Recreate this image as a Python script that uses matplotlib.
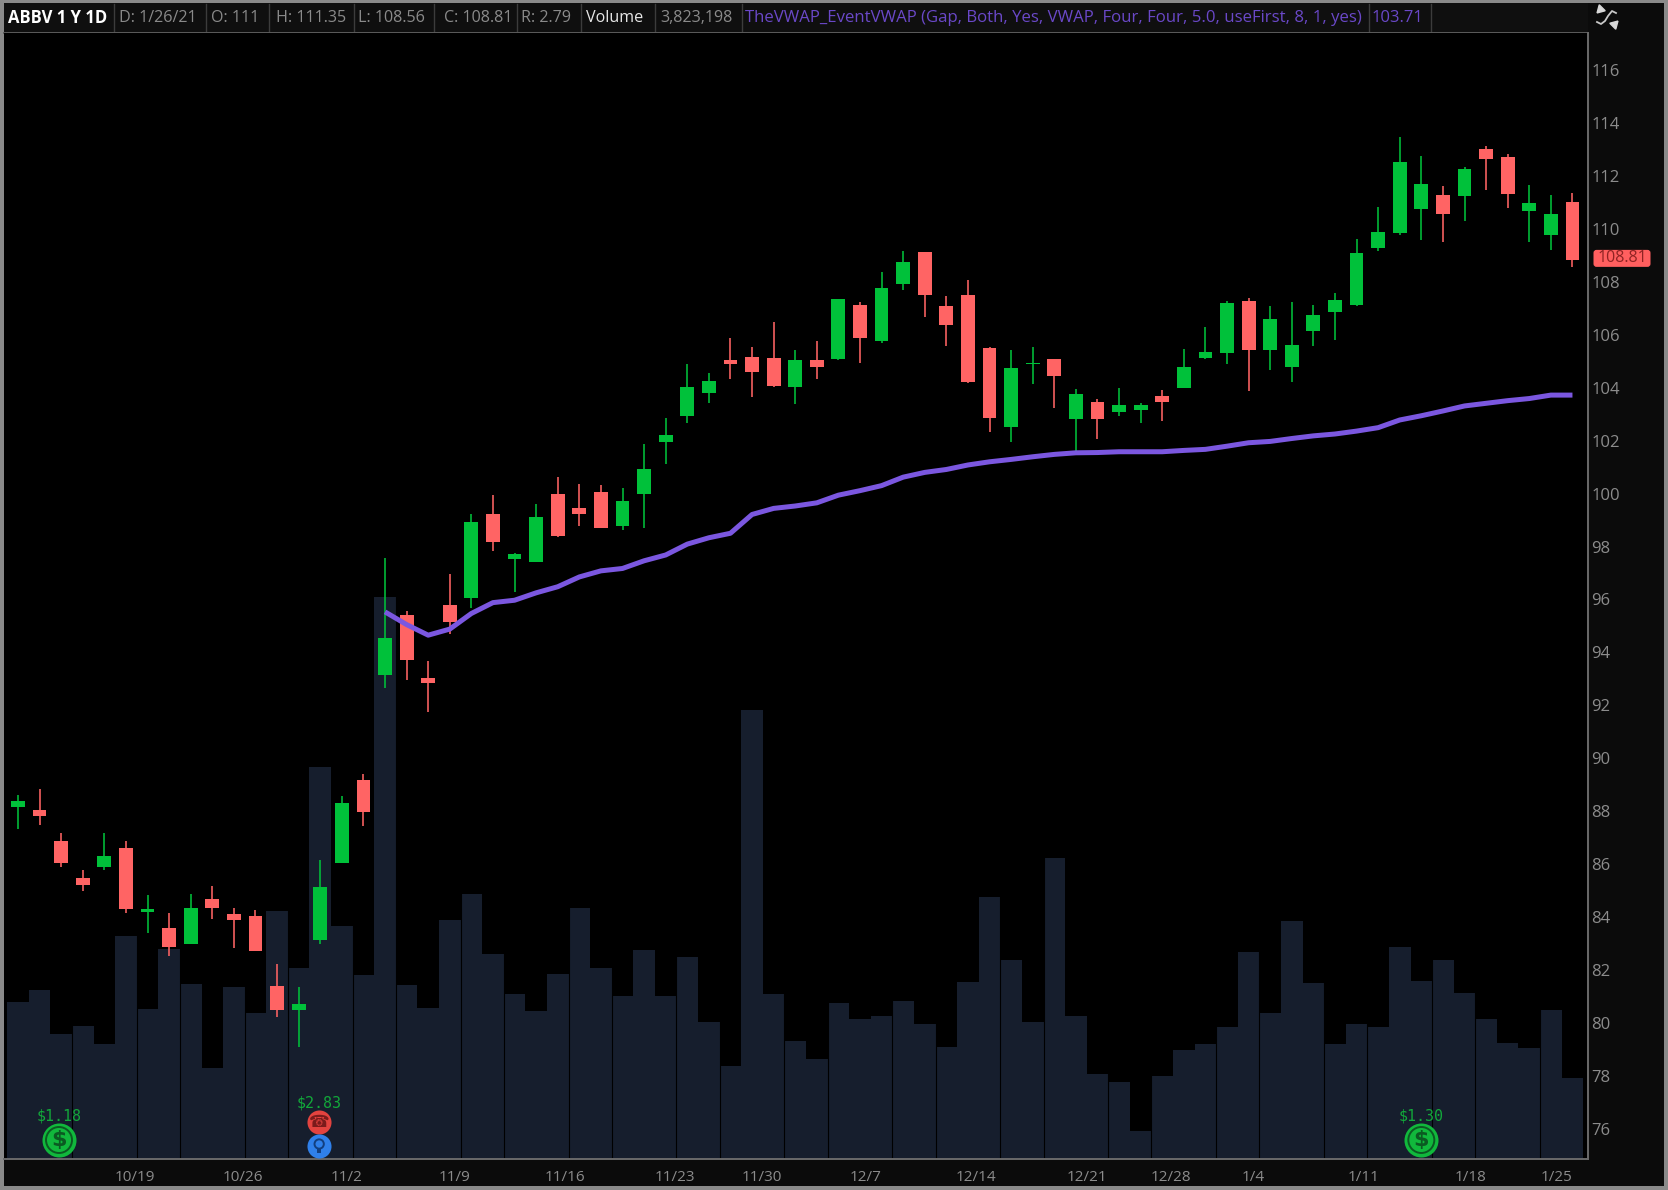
import matplotlib
matplotlib.use("Agg")
import matplotlib.pyplot as plt
from matplotlib.patches import Rectangle, FancyBboxPatch

W, H = 1668, 1190
FONT = ["Open Sans", "DejaVu Sans"]

# ------------------------------------------------------------------ data
highs = [88.62, 88.83, 87.17, 85.76, 87.17, 86.87, 84.82, 84.17, 84.89, 85.19, 84.33, 84.27, 82.24, 81.37, 86.15,
         88.57, 89.42, 97.56, 95.57, 93.69, 96.98, 99.21, 99.94, 97.76, 99.59, 100.61, 100.36, 100.32, 100.20, 101.87,
         102.84, 104.88, 104.54, 105.86, 105.52, 106.47, 105.42, 105.77, 107.34, 107.25, 108.37, 109.17, 109.14, 107.46, 108.07,
         105.52, 105.42, 105.55, 105.10, 103.94, 103.56, 103.97, 103.43, 103.91, 105.45, 106.28, 107.26, 107.40, 107.08, 107.25,
         107.12, 107.59, 109.60, 110.81, 113.48, 112.75, 111.62, 112.35, 113.13, 112.83, 111.65, 111.28, 111.35]
body_top = [88.37, 88.04, 86.89, 85.47, 86.32, 86.61, 84.29, 83.60, 84.33, 84.68, 84.11, 84.05, 81.40, 80.70, 85.13,
            88.31, 89.16, 94.55, 95.41, 93.02, 95.80, 98.94, 99.21, 97.70, 99.10, 100.00, 99.44, 100.07, 99.73, 100.91,
            102.21, 104.02, 104.26, 105.06, 105.17, 105.11, 105.06, 105.06, 107.34, 107.11, 107.76, 108.73, 109.13, 107.10, 107.49,
            105.50, 104.73, 104.95, 105.10, 103.76, 103.47, 103.36, 103.36, 103.70, 104.77, 105.33, 107.21, 107.26, 106.58, 105.61,
            106.74, 107.31, 109.07, 109.87, 112.54, 111.68, 111.29, 112.26, 113.00, 112.70, 110.96, 110.55, 111.00]
body_bot = [88.14, 87.82, 86.05, 85.20, 85.89, 84.29, 84.20, 82.87, 82.98, 84.35, 83.90, 82.71, 80.50, 80.48, 83.13,
            86.05, 87.97, 93.15, 93.72, 92.86, 95.13, 96.04, 98.16, 97.51, 97.41, 98.38, 99.21, 98.71, 98.77, 99.97,
            101.93, 102.92, 103.81, 104.89, 104.60, 104.05, 104.04, 104.77, 105.07, 105.86, 105.75, 107.92, 107.50, 106.36, 104.20,
            102.86, 102.52, 104.88, 104.44, 102.80, 102.80, 103.08, 103.14, 103.47, 104.00, 105.11, 105.30, 105.41, 105.41, 104.77,
            106.14, 106.87, 107.11, 109.26, 109.83, 110.74, 110.56, 111.24, 112.65, 111.30, 110.67, 109.77, 108.81]
lows = [87.32, 87.49, 85.89, 84.98, 85.76, 84.17, 83.39, 82.54, 82.97, 83.93, 82.83, 82.70, 80.24, 79.09, 82.99,
        86.03, 87.43, 92.66, 92.96, 91.75, 94.70, 95.69, 97.83, 96.29, 97.40, 98.37, 98.77, 98.70, 98.62, 98.69,
        101.11, 102.65, 103.43, 104.33, 103.63, 104.03, 103.38, 104.33, 105.06, 104.94, 105.67, 107.69, 106.68, 105.57, 104.16,
        102.34, 101.96, 104.14, 103.22, 101.58, 102.05, 102.94, 102.65, 102.75, 103.99, 105.09, 104.89, 103.88, 104.67, 104.20,
        105.58, 105.80, 107.10, 109.17, 109.77, 109.58, 109.49, 110.29, 111.47, 110.80, 109.50, 109.22, 108.56]
is_up = [1, 0, 0, 0, 1, 0, 1, 0, 1, 0, 0, 0, 0, 1, 1,
         1, 0, 1, 0, 0, 0, 1, 0, 1, 1, 0, 0, 0, 1, 1,
         1, 1, 1, 0, 0, 0, 1, 0, 1, 0, 1, 1, 0, 0, 0,
         0, 1, 1, 0, 1, 0, 1, 1, 0, 1, 1, 1, 0, 1, 1,
         1, 1, 1, 1, 1, 1, 0, 1, 0, 0, 1, 1, 0]
volume_m = [7.42, 7.98, 5.92, 6.28, 5.44, 10.53, 7.08, 9.93, 8.28, 4.30, 8.12, 6.87, 11.71, 9.03, 18.52,
            11.01, 8.70, 26.54, 8.20, 7.15, 11.26, 12.52, 9.68, 7.78, 6.99, 8.74, 11.83, 9.03, 7.69, 9.86,
            7.69, 9.52, 6.48, 4.40, 21.19, 7.79, 5.58, 4.72, 7.35, 6.61, 6.75, 7.47, 6.36, 5.27, 8.37,
            12.35, 9.38, 6.48, 14.19, 6.75, 4.01, 3.63, 1.32, 3.93, 5.14, 5.41, 6.22, 9.76, 6.91, 11.23,
            8.29, 5.41, 6.39, 6.22, 10.01, 8.39, 9.38, 7.85, 6.61, 5.49, 5.23, 7.03, 3.82]
vwap_start = 17
vwap = [95.53, 95.05, 94.65, 94.88, 95.47, 95.88, 95.97, 96.25, 96.48, 96.85, 97.08, 97.17, 97.46, 97.68, 98.09,
        98.33, 98.50, 99.21, 99.44, 99.53, 99.65, 99.94, 100.11, 100.30, 100.62, 100.80, 100.91, 101.08, 101.20, 101.29,
        101.39, 101.48, 101.54, 101.55, 101.58, 101.58, 101.58, 101.63, 101.67, 101.79, 101.92, 101.97, 102.08, 102.18, 102.25,
        102.36, 102.49, 102.78, 102.94, 103.12, 103.31, 103.41, 103.51, 103.59, 103.72, 103.72]
date_idx = [5, 10, 15, 20, 25, 30, 34, 39, 44, 49, 53, 57, 62, 67, 71]
date_labels = ["10/19", "10/26", "11/2", "11/9", "11/16", "11/23", "11/30", "12/7", "12/14", "12/21", "12/28",
               "1/4", "1/11", "1/18", "1/25"]
date_label_shift = [0.42, 0.42, 0.2, 0.2, 0.35, 0.42, 0.45, 0.25, 0.37, 0.52, 0.42, 0.2, 0.33, 0.28, 0.28]
price_ticks = list(range(76, 117, 2))
last_price = 108.81
div_idx = [1.9, 13.95, 65.0]
div_labels = ["$1.18", "$2.83", "$1.30"]
header_cells = [("ABBV 1 Y 1D", 8, "#ffffff", "bold", 12), ("D: 1/26/21", 119, "#8a8a8a", "normal", 11.6),
                ("O: 111", 211, "#8a8a8a", "normal", 11.6), ("H: 111.35", 276, "#8a8a8a", "normal", 11.6),
                ("L: 108.56", 358, "#8a8a8a", "normal", 11.6), ("C: 108.81", 444, "#8a8a8a", "normal", 11.6),
                ("R: 2.79", 521, "#8a8a8a", "normal", 11.6), ("Volume", 586, "#e6e6e6", "normal", 11.6),
                ("3,823,198", 660, "#8a8a8a", "normal", 11.6),
                ("TheVWAP_EventVWAP (Gap, Both, Yes, VWAP, Four, Four, 5.0, useFirst, 8, 1, yes)", 745, "#6a48c8", "normal", 12.05),
                ("103.71", 1372, "#6a48c8", "normal", 12)]
header_seps = [114, 206, 269, 354, 434, 517, 581, 655, 742, 1369, 1431]

GREEN, RED, PURPLE, VOLC = "#00c13a", "#ff6464", "#7b57e0", "#161e2d"
TICKC = "#8c8c8c"
n = len(highs)
x = list(range(n))

# ------------------------------------------------------------------ figure + chrome
fig = plt.figure(figsize=(W / 100, H / 100), dpi=100, facecolor="#8a8a8a")
bg = fig.add_axes([0, 0, 1, 1], zorder=0)
bg.set_xlim(0, W); bg.set_ylim(H, 0); bg.axis("off")
bg.add_patch(Rectangle((4, 3), W - 8, H - 7, fc="#0b0b0b", ec="none"))
bg.add_patch(Rectangle((4, 3), 1584, 30, fc="#0f0f0f", ec="none"))
for sx in header_seps:
    bg.plot([sx, sx], [4, 31], color="#3c3c3c", lw=1)
for txt, tx, col, wt, fs in header_cells:
    bg.text(tx, 18, txt, color=col, fontsize=fs, fontweight=wt, family=FONT, va="center", ha="left")

# top-right icon
bg.plot([1597, 1601, 1605, 1608, 1612, 1616], [22, 24, 21, 16, 11, 13], color="#c8c8c8", lw=1.3)
bg.plot([1600], [9], marker=(3, 0, 135), ms=7, color="#d8d8d8")
bg.plot([1614], [24], marker=(3, 0, -45), ms=7, color="#d8d8d8")

AX_L, AX_R, AX_T, AX_B = 4, 1588, 33, 1159
pos = [AX_L / W, 1 - AX_B / H, (AX_R - AX_L) / W, (AX_B - AX_T) / H]
XLIM = (-0.648, 72.72)
YLIM = (74.86, 117.40)

# ------------------------------------------------------------------ volume
axv = fig.add_axes(pos, zorder=1)
axv.set_xlim(*XLIM); axv.set_ylim(0, 53.15)
axv.set_xticks([]); axv.set_yticks([])
axv.set_facecolor("#000000")
for s in axv.spines.values():
    s.set_visible(False)
axv.bar(x, volume_m, width=1.0, color=VOLC, linewidth=0)
gaps = [int(2.5 * k + 1) - 0.5 for k in range(1, 29)]
axv.vlines(gaps, 0, 53.15, color="#000000", lw=0.8)

# ------------------------------------------------------------------ price
ax = fig.add_axes(pos, zorder=2)
ax.patch.set_alpha(0)
ax.set_xlim(*XLIM); ax.set_ylim(*YLIM)
cols = [GREEN if u else RED for u in is_up]
ax.vlines(x, lows, highs, colors=cols, lw=1.15, zorder=3)
ax.bar(x, [t - b for t, b in zip(body_top, body_bot)], bottom=body_bot, width=0.64, color=cols, linewidth=0, zorder=4)
ax.plot(x[vwap_start:], vwap, color=PURPLE, lw=3.6, zorder=5, solid_joinstyle="round", solid_capstyle="butt")

ax.yaxis.tick_right()
ax.set_yticks(price_ticks)
ax.set_yticklabels([str(p) for p in price_ticks], color=TICKC, fontsize=12, family=FONT)
ax.set_xticks([i + d for i, d in zip(date_idx, date_label_shift)])
ax.set_xticklabels(date_labels, color=TICKC, fontsize=11, family=FONT)
ax.tick_params(axis="both", length=0)
ax.tick_params(axis="y", pad=2.5)
ax.tick_params(axis="x", pad=8)
for s in ("left", "top"):
    ax.spines[s].set_visible(False)
for s in ("right", "bottom"):
    ax.spines[s].set_color("#6a6a6a"); ax.spines[s].set_linewidth(1.4)
bg.plot([4, 1588], [33, 33], color="#5c5c5c", lw=1.4)

# last price tag
tag = fig.add_axes([0, 0, 1, 1], zorder=3)
tag.set_xlim(0, W); tag.set_ylim(H, 0); tag.axis("off"); tag.patch.set_alpha(0)
ytag = H - ax.transData.transform((0, last_price))[1] - 2
tag.add_patch(FancyBboxPatch((1595, ytag - 7), 54, 14, boxstyle="round,pad=1.5,rounding_size=3", fc="#ff5f5f", ec="none"))
tag.text(1622, ytag, f"{last_price:.2f}", color="#8f2323", fontsize=11.5, family=FONT, ha="center", va="center")

# ------------------------------------------------------------------ event icons
MONO = "DejaVu Sans Mono"
def px_to_price(py):
    return YLIM[1] - (py - AX_T) / (AX_B - AX_T) * (YLIM[1] - YLIM[0])

for i in (0, 2):
    ax.scatter([div_idx[i]], [px_to_price(1140)], s=600, color="#11b83c", linewidths=0, zorder=6, clip_on=False)
    ax.scatter([div_idx[i]], [px_to_price(1140)], s=350, facecolor="none", edgecolor="#0b5a22", linewidths=1.4, zorder=7)
    ax.text(div_idx[i], px_to_price(1140), "$", color="#0b5a22", fontsize=16, fontweight="bold", family="DejaVu Sans",
            ha="center", va="center", zorder=8, parse_math=False)
    ax.text(div_idx[i], px_to_price(1116), div_labels[i], color="#12a83a", fontsize=10.8, family=MONO,
            ha="center", va="center", zorder=8, parse_math=False)

ax.text(div_idx[1], px_to_price(1103), div_labels[1], color="#12a83a", fontsize=10.8, family=MONO,
        ha="center", va="center", zorder=8, parse_math=False)
ax.scatter([div_idx[1]], [px_to_price(1122)], s=300, color="#e2433f", linewidths=0, zorder=6)
ax.text(div_idx[1], px_to_price(1122), "\u260e", color="#7a1b1b", fontsize=12, family="DejaVu Sans",
        ha="center", va="center", zorder=8)
ax.scatter([div_idx[1]], [px_to_price(1146)], s=300, color="#2f80ea", linewidths=0, zorder=6)
ax.scatter([div_idx[1]], [px_to_price(1144)], s=45, facecolor="none", edgecolor="#123f80", linewidths=1.4, zorder=7)
ax.scatter([div_idx[1]], [px_to_price(1151)], s=12, marker="s", color="#123f80", linewidths=0, zorder=7)

fig.savefig("out.png", dpi=100, facecolor=fig.get_facecolor())
